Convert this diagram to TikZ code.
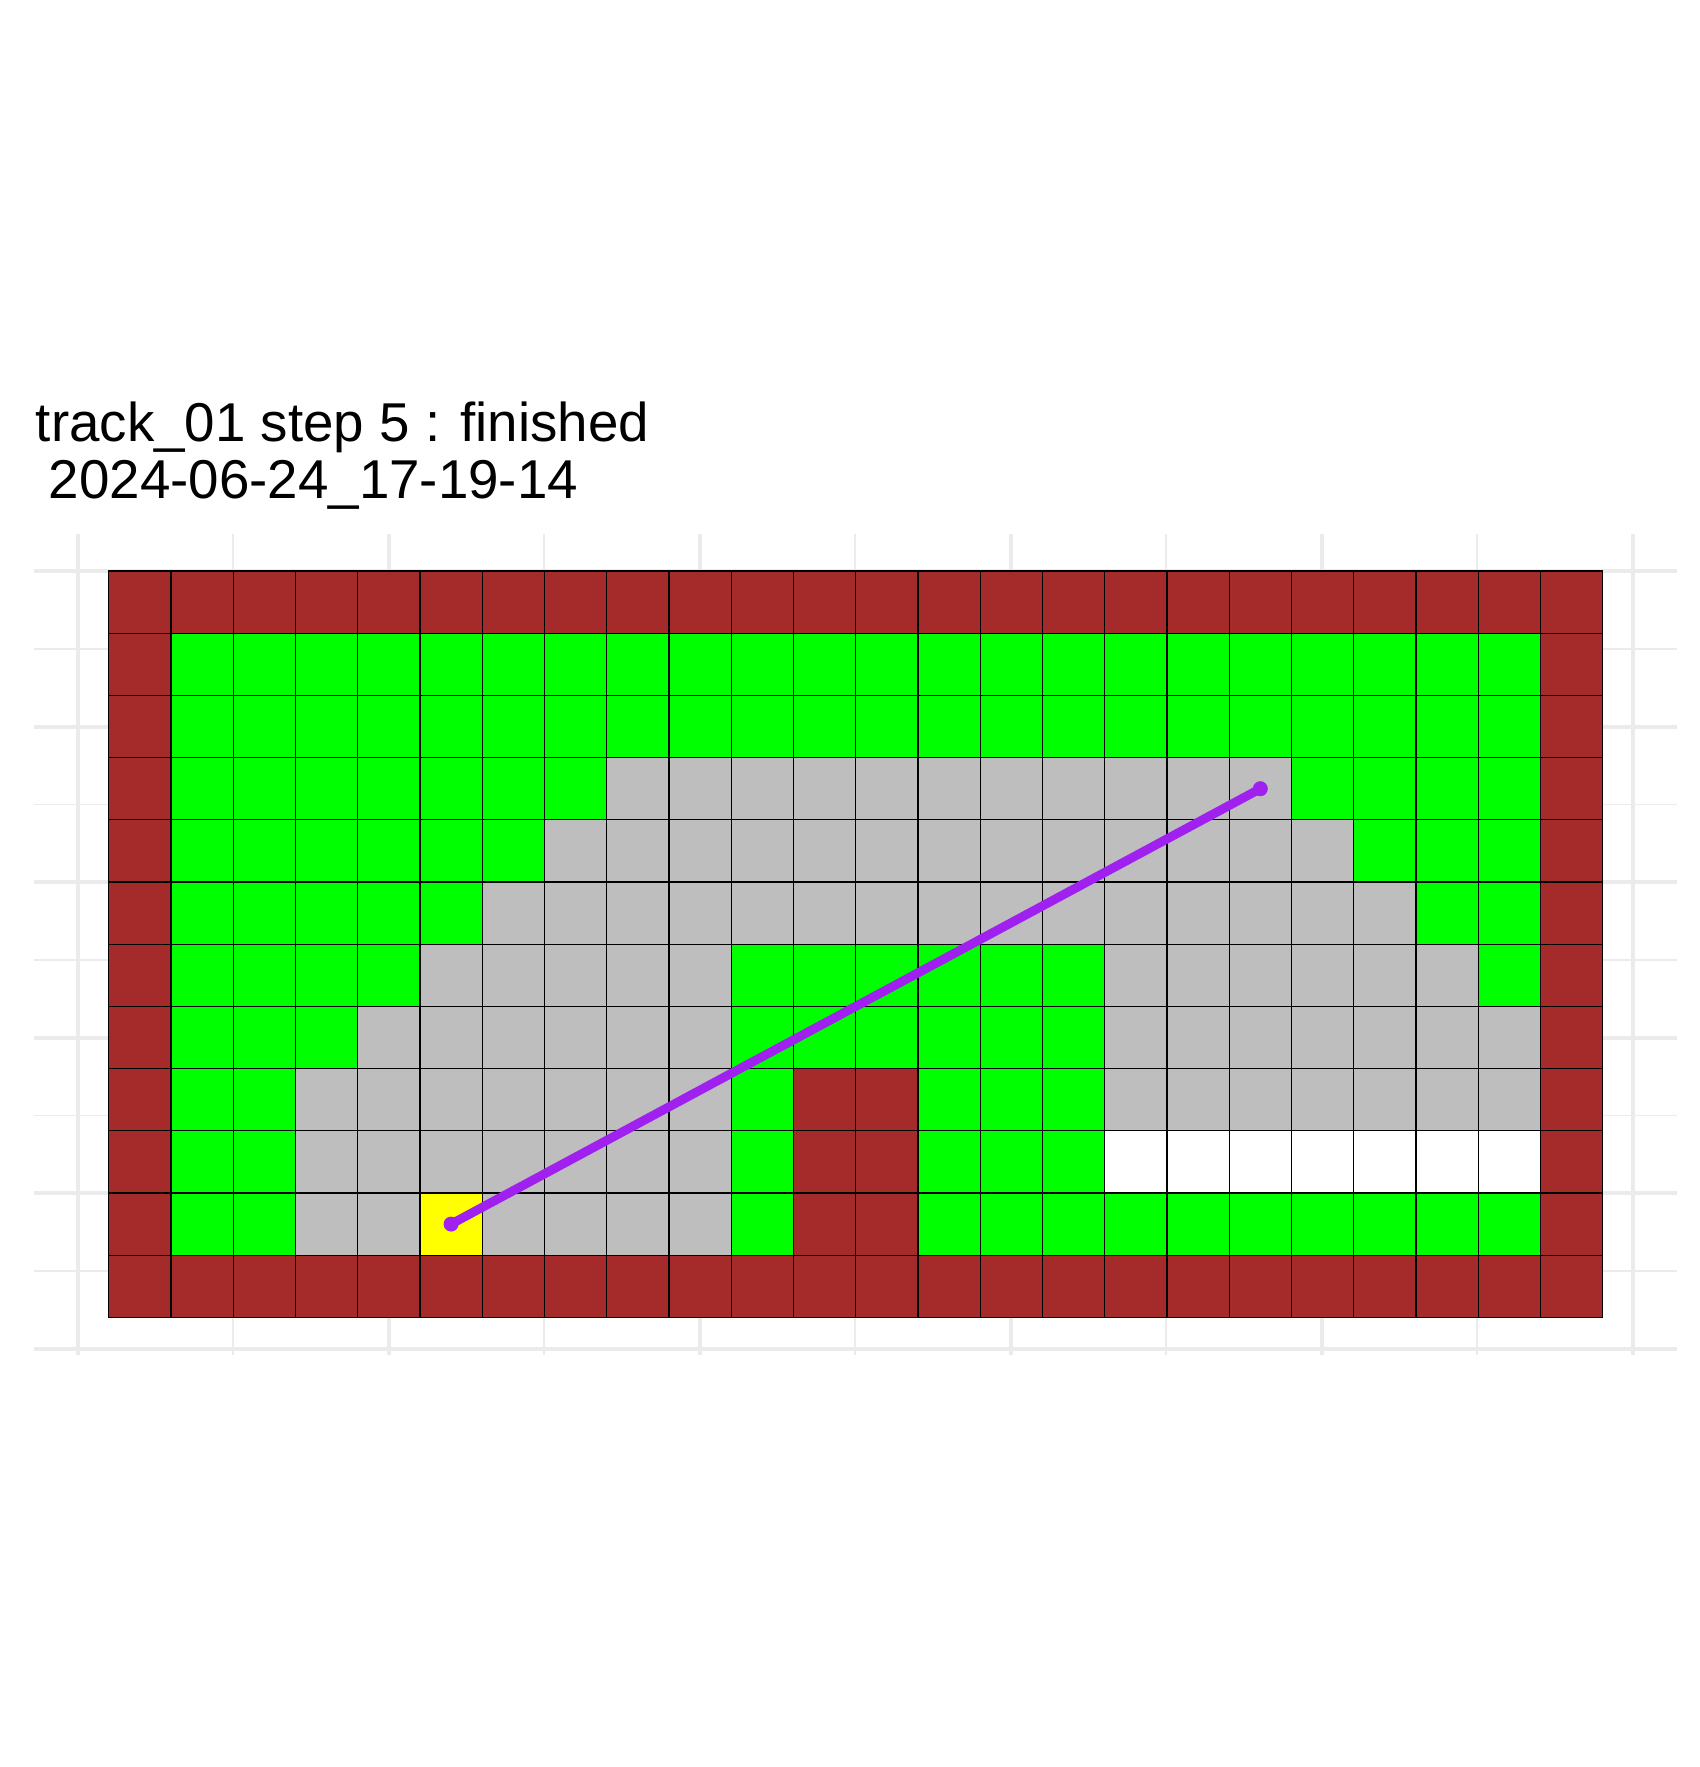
\documentclass[tikz,border=0pt]{standalone}
\usepackage{fontspec}
\newfontfamily\titlefont{Liberation Sans}
\definecolor{wallC}{HTML}{A52A2A}
\definecolor{grassC}{HTML}{00FF00}
\definecolor{roadC}{HTML}{BEBEBE}
\definecolor{startC}{HTML}{FFFF00}
\definecolor{pathC}{HTML}{A020F0}
\definecolor{panelC}{HTML}{EBEBEB}
\begin{document}
\begin{tikzpicture}[x=1pt,y=-1pt,
  majorline/.style={draw=panelC,line width=3.8pt},
  minorline/.style={draw=panelC,line width=1.9pt},
  cellline/.style={draw=black,line width=1.2pt},
  titletext/.style={anchor=base west,inner sep=0pt,font={\titlefont\fontsize{54.7}{57}\selectfont}},
  trackline/.style={draw=pathC,line width=9pt},
  trackdot/.style={fill=pathC}]
\useasboundingbox (0,0) rectangle (1700,1767);
\fill[white] (0,0) rectangle (1700,1767);
% title
\node[titletext] (title1) at (35.7,441) {track\_01 step 5 : finished};
\node[titletext] (title2) at (33.5,498.3) {\ 2024-06-24\_17-19-14};
% panel grid
\foreach \k in {0,...,4} {
  \draw[minorline] (233.2+\k*311,534.3) -- (233.2+\k*311,1355);
  \draw[minorline] (34.3,649+\k*155.5) -- (1676.7,649+\k*155.5);
}
\foreach \k in {0,...,5} {
  \draw[majorline] (77.7+\k*311,534.3) -- (77.7+\k*311,1355);
  \draw[majorline] (34.3,571.2+\k*155.5) -- (1676.7,571.2+\k*155.5);
}
% track
\begin{scope}[shift={(108.7pt,-571pt)},x=62.25pt,y=-62.2pt]
  \fill[wallC] (0,0) rectangle (24,12);
  \foreach \r/\a/\b/\c in {
    2/2/23/grassC, 3/2/23/grassC,
    4/2/8/grassC, 4/9/19/roadC, 4/20/23/grassC,
    5/2/7/grassC, 5/8/20/roadC, 5/21/23/grassC,
    6/2/6/grassC, 6/7/21/roadC, 6/22/23/grassC,
    7/2/5/grassC, 7/6/10/roadC, 7/11/16/grassC, 7/17/22/roadC, 7/23/23/grassC,
    8/2/4/grassC, 8/5/10/roadC, 8/11/16/grassC, 8/17/23/roadC,
    9/2/3/grassC, 9/4/10/roadC, 9/11/11/grassC, 9/14/16/grassC, 9/17/23/roadC,
    10/2/3/grassC, 10/4/10/roadC, 10/11/11/grassC, 10/14/16/grassC, 10/17/23/white,
    11/2/3/grassC, 11/4/5/roadC, 11/6/6/startC, 11/7/10/roadC, 11/11/11/grassC, 11/14/23/grassC} {
    \fill[\c] (\a-1,\r-1) rectangle (\b,\r);
  }
  \foreach \i in {1,...,23} { \draw[cellline] (\i,0) -- (\i,12); }
  \foreach \j in {1,...,11} { \draw[cellline] (0,\j) -- (24,\j); }
  \draw[cellline] (0,0) rectangle (24,12);
  \coordinate (start) at (5.5,10.5);
  \coordinate (goal) at (18.5,3.5);
  \draw[trackline] (start) -- (goal);
  \fill[trackdot] (start) circle (7.5pt);
  \fill[trackdot] (goal) circle (7.5pt);
\end{scope}
\end{tikzpicture}
\end{document}
